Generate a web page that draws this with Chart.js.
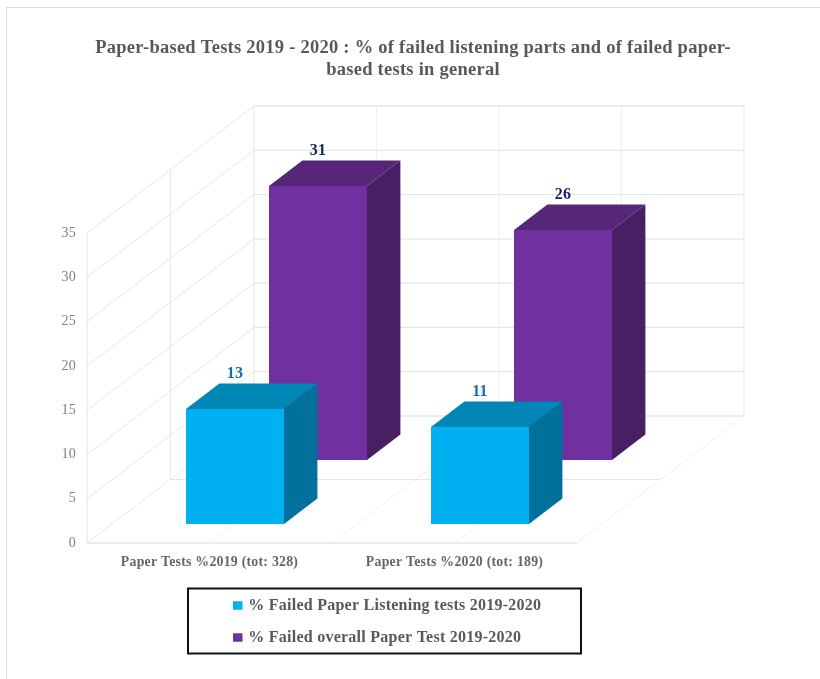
<!DOCTYPE html>
<html>
<head>
<meta charset="utf-8">
<style>
  html, body { margin: 0; padding: 0; background: #fff; overflow: hidden; }
  #frame { position: absolute; left: 6px; top: 7px; width: 814px; height: 672px; border-top: 1px solid #dcdcdc; border-left: 1px solid #dcdcdc; box-sizing: border-box; }
  canvas { position: absolute; left: 0; top: 0; }
</style>
<script src="https://cdn.jsdelivr.net/npm/chart.js@4"></script>
</head>
<body>
<div id="frame"></div>
<canvas id="chart" width="820" height="679"></canvas>
<script>
// Chart content
const categories = ['Paper Tests %2019 (tot: 328)', 'Paper Tests %2020 (tot: 189)'];
const listeningLabel = '% Failed Paper Listening tests 2019-2020';
const overallLabel = '% Failed overall Paper Test 2019-2020';
const listeningValues = [13, 11];
const overallValues = [31, 26];
const titleLines = [
  'Paper-based Tests 2019 - 2020 : % of failed listening parts and of failed paper-',
  'based tests in general'
];

// Projection of the depth axis: screen shift for a point at the back of the floor
const DEPTH_X = 167;
const DEPTH_Y = -127;
const SERIF = '"Liberation Serif", serif';

// Per-series look: depth slot of the row, the three shaded faces and the value label
const seriesStyle = [
  { zFront: 0.15, zBack: 0.35, front: '#00B0F0', top: '#0086B6', side: '#00719B', label: '#0F6FB2', gap: 10 },
  { zFront: 0.65, zBack: 0.85, front: '#7030A0', top: '#572679', side: '#481F62', label: '#10265F', gap: 10 }
];

function poly(ctx, pts, fill) {
  ctx.beginPath();
  pts.forEach((p, i) => (i ? ctx.lineTo(p[0], p[1]) : ctx.moveTo(p[0], p[1])));
  ctx.closePath();
  ctx.fillStyle = fill;
  ctx.fill();
}

function line(ctx, x1, y1, x2, y2, color, width) {
  ctx.beginPath();
  ctx.moveTo(x1, y1);
  ctx.lineTo(x2, y2);
  ctx.strokeStyle = color;
  ctx.lineWidth = width;
  ctx.stroke();
}

// Side wall, back wall and floor of the 3D box
const wallsPlugin = {
  id: 'walls',
  beforeDatasetsDraw(chart) {
    const { ctx, scales: { x, y } } = chart;
    const yBase = y.getPixelForValue(0);
    const yTop = y.getPixelForValue(35);
    const strong = '#e6e6e6';
    const faint = '#efefef';
    ctx.save();
    // horizontal gridlines wrapping from side wall onto back wall
    y.ticks.forEach(t => {
      const py = y.getPixelForValue(t.value);
      const c = t.value === 0 ? faint : strong;
      line(ctx, x.left, py, x.left + DEPTH_X, py + DEPTH_Y, c, 1);
      line(ctx, x.left + DEPTH_X, py + DEPTH_Y, x.right + DEPTH_X, py + DEPTH_Y, strong, 1.3);
    });
    // vertical lines of the side wall
    line(ctx, x.left, yBase, x.left, yTop, strong, 1);
    line(ctx, x.left + DEPTH_X / 2, yBase + DEPTH_Y / 2, x.left + DEPTH_X / 2, yTop + DEPTH_Y / 2, strong, 1);
    // vertical lines of the back wall and receding lines of the floor
    for (let i = 0; i <= 4; i++) {
      const fx = x.left + (x.right - x.left) * i / 4;
      line(ctx, fx + DEPTH_X, yBase + DEPTH_Y, fx + DEPTH_X, yTop + DEPTH_Y, i % 4 === 0 ? strong : faint, 1);
      line(ctx, fx, yBase, fx + DEPTH_X, yBase + DEPTH_Y, faint, 1);
    }
    // floor lines running across
    line(ctx, x.left, yBase, x.right, yBase, strong, 1.3);
    line(ctx, x.left + DEPTH_X / 2, yBase + DEPTH_Y / 2, x.right + DEPTH_X / 2, yBase + DEPTH_Y / 2, strong, 1);
    ctx.restore();
  }
};

// Draws each bar as a prism pushed back along the depth axis, with its value above
const prismPlugin = {
  id: 'prism',
  beforeDatasetDraw(chart, args) {
    const { ctx } = chart;
    const style = seriesStyle[args.index];
    const meta = chart.getDatasetMeta(args.index);
    const dataset = chart.data.datasets[args.index];
    ctx.save();
    meta.data.forEach((bar, i) => {
      // faces snap to whole pixels so neighbouring faces meet without a seam
      const left = Math.round(bar.x - bar.width / 2 + style.zFront * DEPTH_X);
      const right = Math.round(left + bar.width);
      const top = Math.round(bar.y + style.zFront * DEPTH_Y);
      const bottom = Math.round(bar.base + style.zFront * DEPTH_Y);
      const dx = (style.zBack - style.zFront) * DEPTH_X;
      const dy = (style.zBack - style.zFront) * DEPTH_Y;
      poly(ctx, [[right, top], [right + dx, top + dy], [right + dx, bottom + dy], [right, bottom]], style.side);
      poly(ctx, [[left, top], [left + dx, top + dy], [right + dx, top + dy], [right, top]], style.top);
      poly(ctx, [[left, top], [right, top], [right, bottom], [left, bottom]], style.front);
      ctx.font = 'bold 16px ' + SERIF;
      ctx.fillStyle = style.label;
      ctx.textAlign = 'center';
      ctx.textBaseline = 'middle';
      ctx.fillText(String(dataset.data[i]), (left + right) / 2, top + dy - style.gap);
    });
    ctx.restore();
    return false;
  }
};

// Positions the title and the legend, frames the legend, and opens up the text tracking
const panelPlugin = {
  id: 'panel',
  beforeDraw(chart) {
    chart.ctx.letterSpacing = '0.25px';
  },
  afterLayout(chart) {
    const title = chart.titleBlock;
    title.left = 6;
    title.right = 820;
    title.width = 814;
    const lg = chart.legend;
    lg.left = 219.25;
    lg.top = 581.5;
    lg.width = 364;
    lg.height = 90;
    lg.right = lg.left + lg.width;
    lg.bottom = lg.top + lg.height;
  },
  afterDraw(chart) {
    const { ctx } = chart;
    ctx.save();
    ctx.strokeStyle = '#111';
    ctx.lineWidth = 2;
    ctx.strokeRect(188, 588.5, 393, 65);
    ctx.restore();
  }
};

new Chart(document.getElementById('chart'), {
  type: 'bar',
  data: {
    labels: categories,
    datasets: [
      { label: listeningLabel, data: listeningValues, backgroundColor: seriesStyle[0].front, borderColor: seriesStyle[0].front, borderWidth: 4.5 },
      { label: overallLabel, data: overallValues, backgroundColor: seriesStyle[1].front, borderColor: seriesStyle[1].front, borderWidth: 4.5 }
    ]
  },
  plugins: [wallsPlugin, prismPlugin, panelPlugin],
  options: {
    responsive: false,
    animation: false,
    layout: { padding: { left: 0, right: 243, top: 0, bottom: 0 } },
    datasets: { bar: { grouped: false, categoryPercentage: 1, barPercentage: 0.4 } },
    scales: {
      x: {
        grid: { display: false },
        border: { display: false },
        ticks: { color: '#666666', font: { family: SERIF, size: 13.8, weight: 'bold' }, padding: 3, maxRotation: 0, autoSkip: false },
        afterFit(s) { s.height = 136; }
      },
      y: {
        min: 0,
        max: 35,
        ticks: { stepSize: 5, color: '#7f7f7f', font: { family: SERIF, size: 14 }, padding: 3 },
        grid: { display: false },
        border: { display: false },
        afterFit(s) { s.width = 87; }
      }
    },
    plugins: {
      title: {
        display: true,
        text: titleLines,
        color: '#595959',
        font: { family: SERIF, size: 18.5, weight: 'bold', lineHeight: 22 / 18.5 },
        padding: { top: 37, bottom: 152 }
      },
      legend: {
        position: 'chartArea',
        align: 'start',
        labels: {
          boxWidth: 5,
          boxHeight: 4,
          padding: 16,
          color: '#595959',
          font: { family: SERIF, size: 16, weight: 'bold', lineHeight: 1 }
        }
      },
      tooltip: { enabled: false }
    }
  }
});
</script>
</body>
</html>
